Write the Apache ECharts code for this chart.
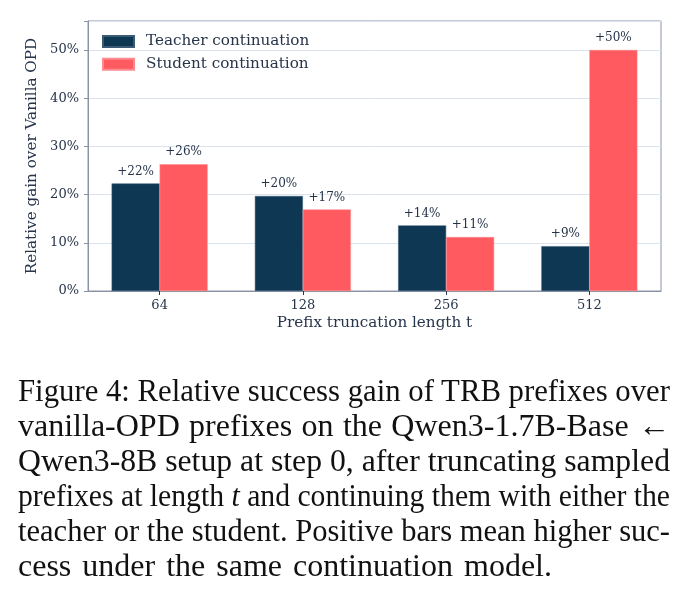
<!DOCTYPE html>
<html>
<head>
<meta charset="utf-8">
<script src="https://cdn.jsdelivr.net/npm/echarts@6/dist/echarts.min.js"></script>
<style>
  html, body { margin: 0; padding: 0; background: #fff; }
  #wrap { position: relative; width: 692px; height: 602px; overflow: hidden; }
  #chart { position: absolute; left: 0; top: 0; width: 692px; height: 602px; }
  #caption { position: absolute; left: 18px; top: 373.4px; width: 652px;
    font-family: "Liberation Serif", "Times New Roman", serif; font-size: 32px; line-height: 35px; color: #111; }
  #caption .ln { white-space: nowrap; text-align: justify; text-align-last: justify; transform-origin: 0 50%; }
  #caption .ln.last { text-align-last: left; word-spacing: 3px; }
</style>
</head>
<body>
<div id="wrap">
  <div id="chart"></div>
  <div id="caption"></div>
</div>
<script>
const categories = ['64', '128', '256', '512'];
const teacherGain = [22.3, 19.7, 13.6, 9.3];
const studentGain = [26.3, 16.9, 11.2, 50.0];
const seriesNames = ['Teacher continuation', 'Student continuation'];
const yTicks = [0, 10, 20, 30, 40, 50];
const xAxisTitle = 'Prefix truncation length t';
const yAxisTitle = 'Relative gain over Vanilla OPD';
const captionLines = [
  'Figure 4: Relative success gain of TRB prefixes over',
  'vanilla-OPD prefixes on the Qwen3-1.7B-Base \u2190',
  'Qwen3-8B setup at step 0, after truncating sampled',
  'prefixes at length <i>t</i> and continuing them with either the',
  'teacher or the student. Positive bars mean higher suc-',
  'cess under the same continuation model.'
];

// caption: one justified line per source line; squeeze a line only if it would overflow
const cap = document.getElementById('caption');
const capWidth = 652;
captionLines.forEach((l, i) => {
  const d = document.createElement('div');
  d.className = 'ln' + (i === captionLines.length - 1 ? ' last' : '');
  d.innerHTML = l;
  cap.appendChild(d);
  if (i === captionLines.length - 1) return;
  const probe = document.createElement('span');
  probe.innerHTML = l;
  probe.style.cssText = 'position:absolute;visibility:hidden;white-space:nowrap;';
  cap.appendChild(probe);
  const w = probe.getBoundingClientRect().width;
  cap.removeChild(probe);
  if (w > capWidth) {
    d.style.width = w + 'px';
    d.style.transform = 'scaleX(' + (capWidth / w) + ')';
  }
});

const FONT = 'DejaVu Serif';
const TXT = '#26344a';
const chart = echarts.init(document.getElementById('chart'), null, { renderer: 'canvas' });

function barLabel() {
  return {
    show: true, position: 'top', distance: 6,
    fontFamily: FONT, fontSize: 12, color: TXT,
    formatter: p => '+' + Math.round(p.value) + '%'
  };
}

chart.setOption({
  animation: false,
  backgroundColor: '#fff',
  textStyle: { fontFamily: FONT, color: TXT },
  grid: { left: 88, right: 31, top: 21, bottom: 311, show: true, borderColor: '#8a94a6', borderWidth: 1, containLabel: false },
  legend: {
    orient: 'vertical', left: 102, top: 32.5, padding: 0,
    itemWidth: 31, itemHeight: 11, itemGap: 4.7,
    icon: 'rect',
    textStyle: { fontFamily: FONT, fontSize: 15.2, color: TXT, lineHeight: 18, padding: [0, 0, 0, 7] },
    data: seriesNames
  },
  xAxis: {
    type: 'category', data: categories,
    axisLine: { show: true, lineStyle: { color: '#8a94a6', width: 1 } },
    axisTick: { show: true, alignWithLabel: true, length: 4, lineStyle: { color: '#26344a' } },
    axisLabel: { fontFamily: FONT, fontSize: 13, color: TXT, margin: 8 },
    name: xAxisTitle, nameLocation: 'middle', nameGap: 25,
    nameTextStyle: { fontFamily: FONT, fontSize: 15.2, color: TXT }
  },
  yAxis: {
    type: 'value', min: 0, max: 56, interval: 10,
    axisLine: { show: true, lineStyle: { color: '#8a94a6', width: 1 } },
    axisTick: { show: true, length: 4, lineStyle: { color: '#8a94a6' } },
    axisLabel: { fontFamily: FONT, fontSize: 13, color: TXT, margin: 9,
      formatter: v => yTicks.indexOf(v) >= 0 ? v + '%' : '' },
    splitLine: { show: true, lineStyle: { color: '#dbe3ef', width: 1 } },
    name: yAxisTitle, nameLocation: 'middle', nameGap: 47,
    nameTextStyle: { fontFamily: FONT, fontSize: 15.2, color: TXT }
  },
  series: [
    { name: seriesNames[0], type: 'bar', data: teacherGain, barWidth: 48, barGap: '0%',
      itemStyle: { color: '#0e3754', borderColor: '#3a5a75', borderWidth: 0.5 }, label: barLabel() },
    { name: seriesNames[1], type: 'bar', data: studentGain, barWidth: 48, barGap: '0%',
      itemStyle: { color: '#ff5a5f', borderColor: '#ff8a8e', borderWidth: 0.5 }, label: barLabel() }
  ]
});
</script>
</body>
</html>
